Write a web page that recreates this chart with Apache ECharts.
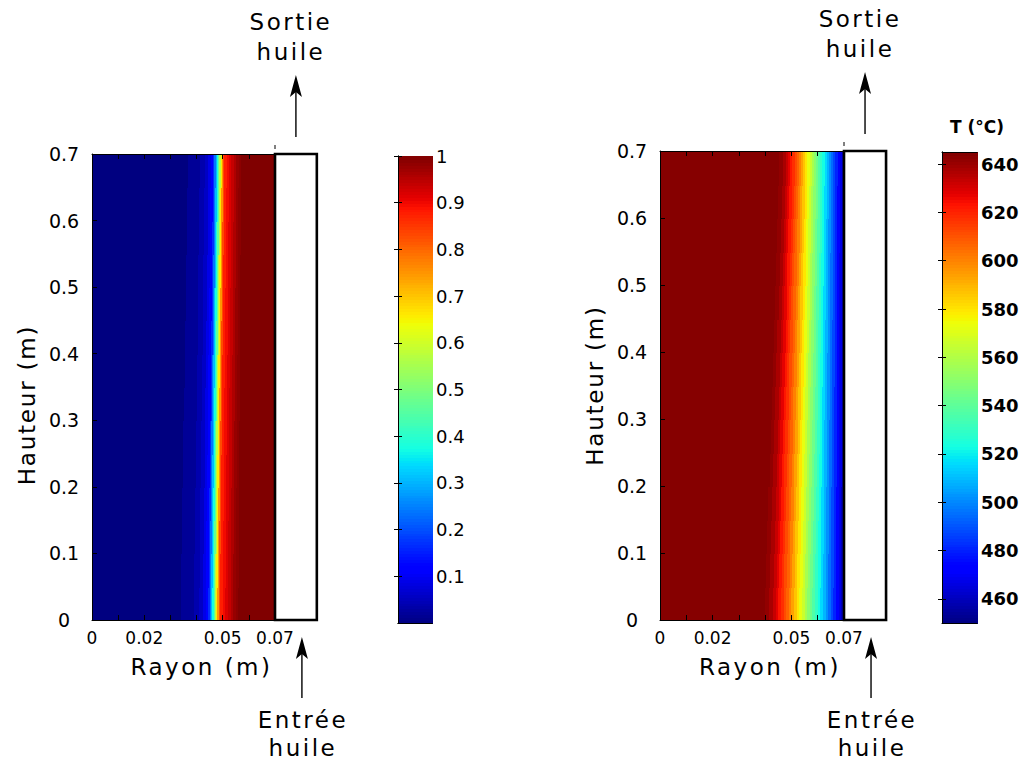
<!DOCTYPE html>
<html><head><meta charset="utf-8">
<script src="https://cdn.jsdelivr.net/npm/echarts@6/dist/echarts.min.js"></script>
<style>html,body{margin:0;padding:0;background:#fff}#c{width:1025px;height:760px}</style>
</head><body><div id="c"></div>
<script>
// ---------------- data ----------------
const rTicks = [0, 0.02, 0.05, 0.07];
const rTickLabels = ['0', '0.02', '0.05', '0.07'];
const zTicks = [0, 0.1, 0.2, 0.3, 0.4, 0.5, 0.6, 0.7];
const zTickLabels = ['0', '0.1', '0.2', '0.3', '0.4', '0.5', '0.6', '0.7'];
// left panel: normalised field, radial profile at the bottom (cell start radius, value)
const leftRStart = [0, 0.034, 0.039, 0.041, 0.0425, 0.0435, 0.0445, 0.045, 0.0455, 0.046, 0.0465, 0.047, 0.0475, 0.048, 0.0485, 0.049, 0.050, 0.051, 0.052, 0.053, 0.054, 0.055, 0.056];
const leftValue  = [0.00, 0.02, 0.04, 0.06, 0.09, 0.12, 0.17, 0.24, 0.31, 0.38, 0.47, 0.57, 0.66, 0.75, 0.83, 0.88, 0.90, 0.92, 0.94, 0.96, 0.98, 0.99, 1.00];
// compression of the profile towards the wall (r = 0.07) for each height band, bottom to top
const leftRowScale = [1.0, 0.995, 0.989, 0.984, 0.978, 0.973, 0.967, 0.961, 0.956, 0.950, 0.944, 0.938, 0.932, 0.926];
// right panel: temperature (°C)
const rightRStart = [0, 0.040, 0.0415, 0.043, 0.044, 0.045, 0.046, 0.047, 0.048, 0.049, 0.050, 0.051, 0.052, 0.053, 0.054, 0.055, 0.056, 0.057, 0.058, 0.059, 0.060, 0.061, 0.062, 0.063, 0.064, 0.065, 0.066, 0.067, 0.068, 0.069, 0.0695];
const rightTemp  = [644, 642, 638, 633, 628, 623, 618, 612, 607, 601, 594, 587, 580, 573, 566, 558, 551, 544, 537, 530, 523, 516, 509, 502, 495, 488, 481, 474, 467, 460, 455];
const rightRowScale = [1.0, 0.986, 0.972, 0.958, 0.944, 0.930, 0.916, 0.902, 0.888, 0.874, 0.860, 0.846, 0.832, 0.818];
const wallR = 0.07;
const heightZ = 0.7;
const boxR = [0.07, 0.086];
const leftRange = [0, 1];
const leftCbTicks = [0.1, 0.2, 0.3, 0.4, 0.5, 0.6, 0.7, 0.8, 0.9, 1];
const leftCbLabels = ['0.1', '0.2', '0.3', '0.4', '0.5', '0.6', '0.7', '0.8', '0.9', '1'];
const rightRange = [450, 645];
const rightCbTicks = [460, 480, 500, 520, 540, 560, 580, 600, 620, 640];
const cbTitle = 'T (°C)';
const xName = 'Rayon (m)';
const yName = 'Hauteur (m)';
const topText = ['Sortie', 'huile'];
const bottomText = ['Entrée', 'huile'];

// ---------------- helpers ----------------
function interp(pts, t) {
  for (let i = 1; i < pts.length; i++) {
    if (t <= pts[i][0]) {
      const a = pts[i - 1], b = pts[i];
      return a[1] + (b[1] - a[1]) * (t - a[0]) / (b[0] - a[0]);
    }
  }
  return pts[pts.length - 1][1];
}
const jetR = [[0, 0], [0.35, 0], [0.66, 1], [0.89, 1], [1, 0.5]];
const jetG = [[0, 0], [0.125, 0], [0.375, 1], [0.64, 1], [0.91, 0], [1, 0]];
const jetB = [[0, 0.5], [0.11, 1], [0.34, 1], [0.65, 0], [1, 0]];
const jetColors = [];
for (let i = 0; i <= 128; i++) {
  const t = i / 128;
  const c = v => Math.round(255 * v);
  jetColors.push('rgb(' + c(interp(jetR, t)) + ',' + c(interp(jetG, t)) + ',' + c(interp(jetB, t)) + ')');
}

function buildField(starts, values, rowScale) {
  const out = [];
  const n = rowScale.length, dz = heightZ / n;
  for (let j = 0; j < n; j++) {
    const s = rowScale[j];
    for (let i = 0; i < starts.length; i++) {
      const r0 = i === 0 ? 0 : Math.max(0, wallR - (wallR - starts[i]) * s);
      const r1e = i + 1 < starts.length ? starts[i + 1] : wallR;
      const r1 = Math.max(0, wallR - (wallR - r1e) * s);
      if (r1 <= r0) continue;
      out.push([r0, r1, j * dz, (j + 1) * dz, values[i]]);
    }
  }
  return out;
}
function buildBar(range) {
  const out = [], n = 160, d = (range[1] - range[0]) / n;
  for (let i = 0; i < n; i++) out.push([0, 1, range[0] + i * d, range[0] + (i + 1) * d, range[0] + (i + 0.5) * d]);
  return out;
}

function cellRender(params, api) {
  const a = api.coord([api.value(0), api.value(3)]);
  const b = api.coord([api.value(1), api.value(2)]);
  const x0 = Math.round(a[0]), x1 = Math.round(b[0]);
  const y0 = Math.round(a[1]), y1 = Math.round(b[1]);
  if (x1 <= x0 || y1 <= y0) return null;
  return { type: 'rect', shape: { x: x0, y: y0, width: x1 - x0 + 1, height: y1 - y0 + 1 },
    style: { fill: api.visual('color'), stroke: null } };
}
const FONT = 'DejaVu Sans';
function arrow(x, yTail, yTip) {
  const head = 22, hw = 6, notch = 5;
  const yBase = yTip + head;
  return [
    { type: 'line', shape: { x1: x, y1: yTail, x2: x, y2: yBase - notch }, style: { stroke: '#000', lineWidth: 1.4 } },
    { type: 'polygon', shape: { points: [[x, yTip], [x - hw, yBase], [x, yBase - notch], [x + hw, yBase]] }, style: { fill: '#000' } }
  ];
}
function txt(s, x, y) {
  return { type: 'text', style: { text: s, x: x, y: y, align: 'center', verticalAlign: 'middle', font: '23px "' + FONT + '"', fill: '#000' } };
}
function boxRender(params, api) {
  const tl = api.coord([api.value(0), api.value(3)]);
  const br = api.coord([api.value(1), api.value(2)]);
  const cx = (tl[0] + br[0]) / 2;
  const ch = [
    { type: 'rect', shape: { x: tl[0], y: tl[1], width: br[0] - tl[0], height: br[1] - tl[1] }, style: { fill: '#fff', stroke: '#000', lineWidth: 2.6 } },
    { type: 'line', shape: { x1: tl[0], y1: tl[1] - 9, x2: tl[0], y2: tl[1] - 5 }, style: { stroke: '#000', lineWidth: 1 } }
  ];
  ch.push(...arrow(cx, tl[1] - 17, tl[1] - 79));
  ch.push(txt(topText[0], cx - 5, tl[1] - 132));
  ch.push(txt(topText[1], cx - 5, tl[1] - 102));
  ch.push(...arrow(cx + 6, br[1] + 78, br[1] + 17));
  ch.push(txt(bottomText[0], cx + 7, br[1] + 100));
  ch.push(txt(bottomText[1], cx + 7, br[1] + 128));
  return { type: 'group', children: ch };
}

function labelFor(ticks, labels, v) {
  for (let i = 0; i < ticks.length; i++) if (Math.abs(ticks[i] - v) < 1e-9) return labels[i];
  return '';
}
const black = '#000';
function heatX(gi, top) {
  return { type: 'value', gridIndex: gi, min: 0, max: wallR, interval: 0.01, position: top ? 'top' : 'bottom', z: 10,
    axisLine: { show: true, lineStyle: { color: black, width: 1 } },
    axisTick: { show: true, inside: true, length: 5, lineStyle: { color: black } },
    axisLabel: top ? { show: false } : { show: true, color: black, fontFamily: FONT, fontSize: 17, margin: 9,
      formatter: v => labelFor(rTicks, rTickLabels, v) },
    splitLine: { show: false },
    name: top ? '' : xName, nameLocation: 'middle', nameGap: 35,
    nameTextStyle: { color: black, fontFamily: FONT, fontSize: 23, padding: [0, 0, 0, 36] } };
}
function heatY(gi, pad) {
  return { type: 'value', gridIndex: gi, min: 0, max: heightZ, interval: 0.1, position: 'left', z: 10,
    axisLine: { show: true, lineStyle: { color: black, width: 1 } },
    axisTick: { show: true, inside: true, length: 5, lineStyle: { color: black } },
    axisLabel: { show: true, color: black, fontFamily: FONT, fontSize: 19, margin: 28, align: 'center',
      formatter: v => labelFor(zTicks, zTickLabels, v) },
    splitLine: { show: false },
    name: yName, nameLocation: 'middle', nameGap: 54,
    nameTextStyle: { color: black, fontFamily: FONT, fontSize: 23, padding: pad } };
}
function cbX(gi, pos) {
  return { type: 'value', gridIndex: gi, min: 0, max: 1, position: pos, z: 10,
    axisLine: { show: true, lineStyle: { color: black, width: 1 } }, axisTick: { show: false }, axisLabel: { show: false }, splitLine: { show: false } };
}
function cbY(gi, range, pos, labelled, bold, ticks, labels) {
  return { type: 'value', gridIndex: gi, min: range[0], max: range[1], position: pos, z: 10,
    axisLine: { show: true, lineStyle: { color: black, width: 1 } },
    axisTick: { show: true, inside: true, length: 4, lineStyle: { color: black }, customValues: ticks },
    axisLabel: { show: labelled, customValues: ticks, color: black, fontFamily: FONT, fontSize: 18,
      fontWeight: bold ? 'bold' : 'normal', margin: 4,
      formatter: v => labels ? labelFor(ticks, labels, v) : String(Math.round(v)) },
    splitLine: { show: false } };
}

const chart = echarts.init(document.getElementById('c'), null, { renderer: 'svg', width: 1025, height: 760 });
chart.setOption({
  backgroundColor: '#fff',
  animation: false,
  title: { text: cbTitle, left: 977, top: 118, textAlign: 'center', padding: 0,
    textStyle: { fontFamily: FONT, fontSize: 17, fontWeight: 'bold', color: black } },
  grid: [
    { left: 92, top: 154, width: 183, height: 466 },
    { left: 398, top: 156, width: 34, height: 467 },
    { left: 660, top: 151, width: 184, height: 469 },
    { left: 942, top: 152, width: 35, height: 471 }
  ],
  xAxis: [heatX(0, false), heatX(0, true), cbX(1, 'bottom'), cbX(1, 'top'),
          heatX(2, false), heatX(2, true), cbX(3, 'bottom'), cbX(3, 'top')],
  yAxis: [heatY(0, [0, 36, 0, 0]), cbY(1, leftRange, 'right', true, false, leftCbTicks, leftCbLabels), cbY(1, leftRange, 'left', false, false, leftCbTicks, leftCbLabels),
          heatY(2, [0, 0, 0, 0]), cbY(3, rightRange, 'right', true, true, rightCbTicks, null), cbY(3, rightRange, 'left', false, true, rightCbTicks, null)],
  visualMap: [
    { type: 'continuous', show: false, min: leftRange[0], max: leftRange[1], dimension: 4, seriesIndex: [0, 1], inRange: { color: jetColors } },
    { type: 'continuous', show: false, min: rightRange[0], max: rightRange[1], dimension: 4, seriesIndex: [3, 4], inRange: { color: jetColors } }
  ],
  series: [
    { type: 'custom', xAxisIndex: 0, yAxisIndex: 0, renderItem: cellRender, data: buildField(leftRStart, leftValue, leftRowScale), z: 2 },
    { type: 'custom', xAxisIndex: 2, yAxisIndex: 1, renderItem: cellRender, data: buildBar(leftRange), z: 2 },
    { type: 'custom', xAxisIndex: 0, yAxisIndex: 0, renderItem: boxRender, data: [[boxR[0], boxR[1], 0, heightZ]], clip: false, z: 20 },
    { type: 'custom', xAxisIndex: 4, yAxisIndex: 3, renderItem: cellRender, data: buildField(rightRStart, rightTemp, rightRowScale), z: 2 },
    { type: 'custom', xAxisIndex: 6, yAxisIndex: 4, renderItem: cellRender, data: buildBar(rightRange), z: 2 },
    { type: 'custom', xAxisIndex: 4, yAxisIndex: 3, renderItem: boxRender, data: [[boxR[0], boxR[1], 0, heightZ]], clip: false, z: 20 }
  ]
});
// wider letter spacing for the large labels, as in the reference
const spacing = {};
[xName].concat(topText, bottomText).forEach(s => { spacing[s] = '2.5'; });
spacing[yName] = '1.8';
chart.getDom().querySelectorAll('text').forEach(t => {
  const k = t.textContent.trim();
  if (spacing[k]) t.setAttribute('letter-spacing', spacing[k]);
});
</script>
</body></html>
